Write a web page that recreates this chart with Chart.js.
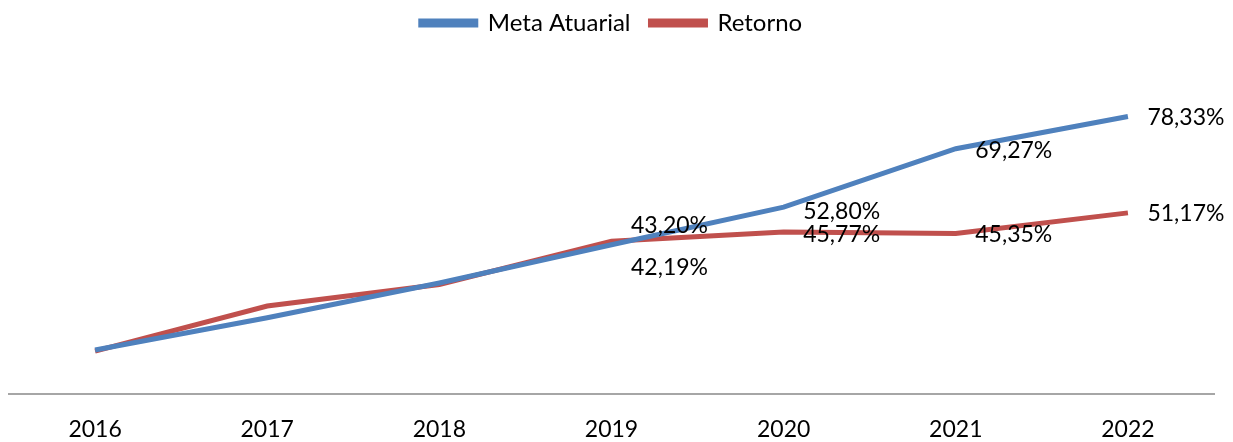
<!DOCTYPE html>
<html>
<head>
<meta charset="utf-8">
<script src="https://cdn.jsdelivr.net/npm/chart.js@4.4.1/dist/chart.umd.min.js"></script>
<style>
  html, body { margin: 0; padding: 0; background: #fff; }
  #wrap { width: 1233px; height: 442px; }
</style>
</head>
<body>
<div id="wrap"><canvas id="chart"></canvas></div>
<script>
const years = ['2016', '2017', '2018', '2019', '2020', '2021', '2022'];
const metaAtuarial = [12.5, 21.6, 31.4, 42.19, 52.80, 69.27, 78.33];
const retorno = [12.2, 24.9, 31.0, 43.20, 45.77, 45.35, 51.17];
// which points carry a value label
const labelled = [false, false, false, true, true, true, true];

// little label plugin, offsets are just to mimic the original placement
const labelOffsets = [
  [0, 0, 0, 23, 4, 2, 1],
  [0, 0, 0, -16, 3, 1, 1]
];

const pointLabels = {
  id: 'pointLabels',
  afterDatasetsDraw(chart) {
    const ctx = chart.ctx;
    ctx.save();
    ctx.font = '23px Lato';
    ctx.fillStyle = '#000';
    ctx.textAlign = 'center';
    ctx.textBaseline = 'middle';
    chart.data.datasets.forEach((ds, di) => {
      const meta = chart.getDatasetMeta(di);
      meta.data.forEach((pt, i) => {
        if (!labelled[i]) return;
        const txt = ds.data[i].toFixed(2).replace('.', ',') + '%';
        ctx.fillText(txt, pt.x + 58, pt.y + labelOffsets[di][i]);
      });
    });
    ctx.restore();
  }
};

new Chart(document.getElementById('chart'), {
  type: 'line',
  data: {
    labels: years,
    datasets: [
      {
        label: 'Meta Atuarial',
        data: metaAtuarial,
        borderColor: '#4F81BD',
        backgroundColor: '#4F81BD',
        borderWidth: 5,
        pointRadius: 0,
        tension: 0
      },
      {
        label: 'Retorno',
        data: retorno,
        borderColor: '#C0504D',
        backgroundColor: '#C0504D',
        borderWidth: 5,
        pointRadius: 0,
        tension: 0
      }
    ]
  },
  options: {
    responsive: true,
    maintainAspectRatio: false,
    animation: false,
    layout: { padding: { left: 9, right: 19, top: -9, bottom: -22 } },
    plugins: {
      legend: {
        position: 'top',
        labels: {
          boxWidth: 55,
          boxHeight: 4,
          color: '#000',
          font: { family: 'Lato', size: 24 },
          padding: 20
        }
      },
      tooltip: { enabled: false }
    },
    scales: {
      x: {
        offset: true,
        grid: { display: false, drawTicks: false },
        border: { display: true, color: '#A6A6A6', width: 2 },
        ticks: {
          color: '#000',
          font: { family: 'Lato', size: 23 },
          padding: 21,
          maxRotation: 0
        }
      },
      y: {
        display: false,
        min: 0,
        max: 98.5
      }
    }
  },
  plugins: [pointLabels]
});
</script>
</body>
</html>
